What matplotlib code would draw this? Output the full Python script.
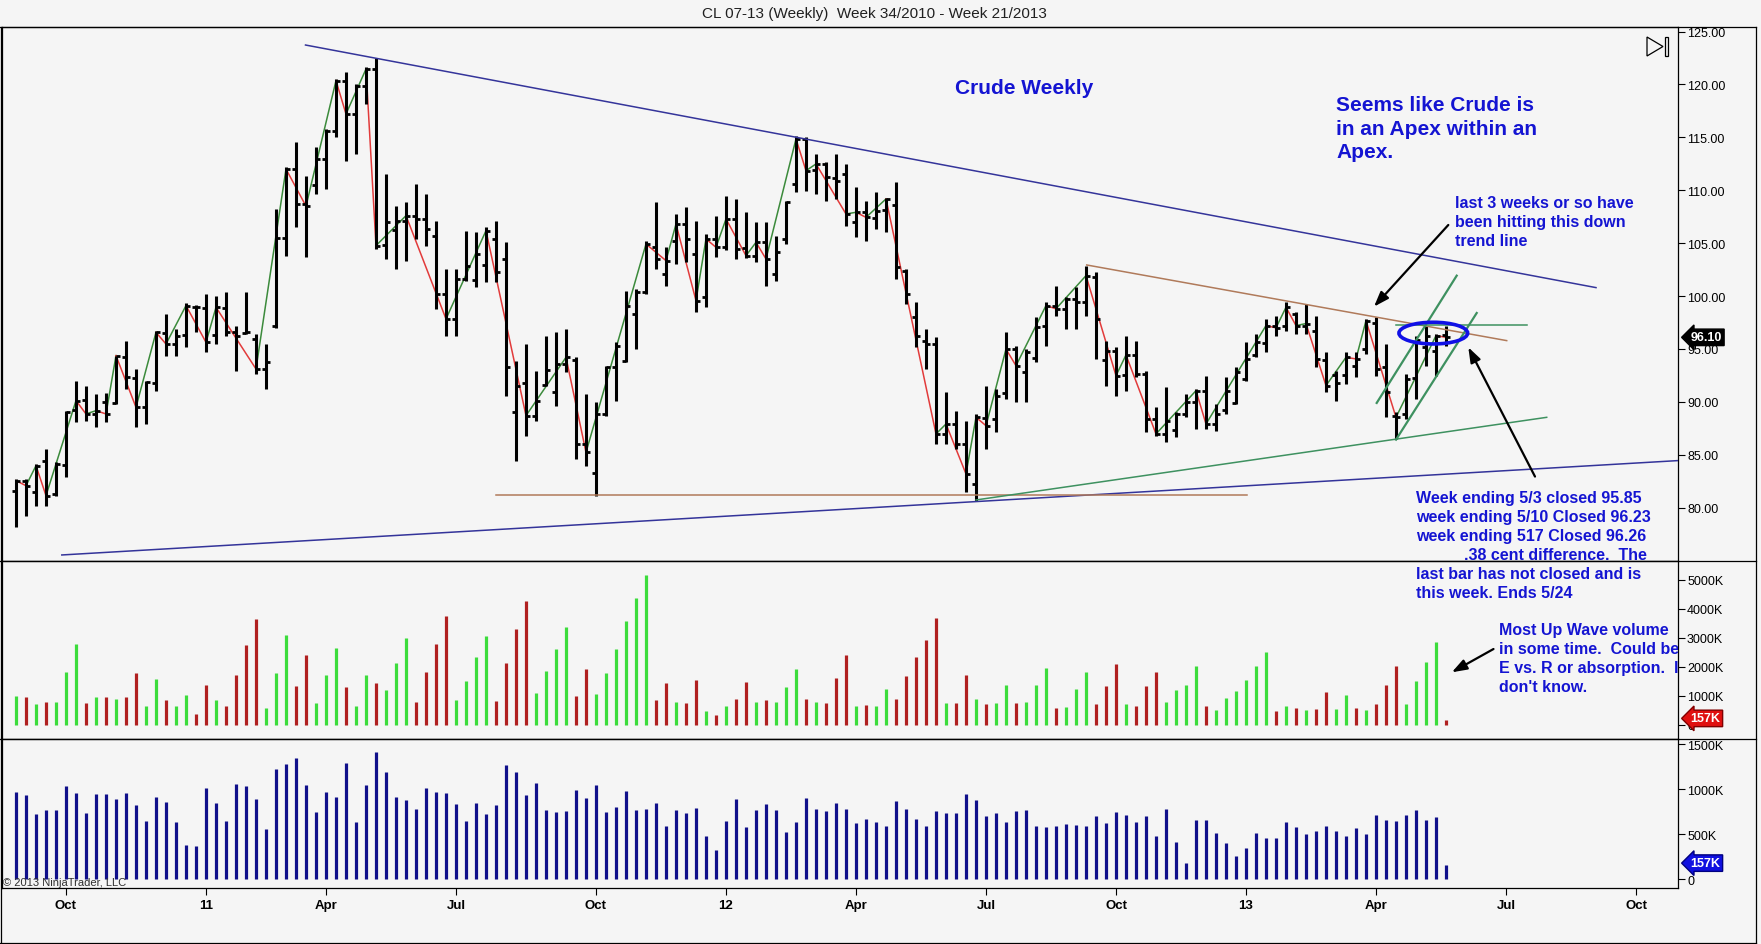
import numpy as np
import pandas as pd
import matplotlib
matplotlib.use("Agg")
import matplotlib.pyplot as plt
import matplotlib.dates as mdates
from matplotlib.patches import Ellipse, Polygon
from matplotlib.lines import Line2D

plt.rcParams['font.family'] = ['Liberation Sans', 'DejaVu Sans']

# ---------------------------------------------------------------- data
first_week = "2010-08-27"   # week ending Friday, week 34/2010
n_weeks = 144

opens = [81.6, 82.5, 81.5, 84.4, 81.3, 84.0, 89.2, 90.2, 88.9, 90.0,
         89.9, 94.2, 92.3, 89.5, 91.8, 96.5, 95.5, 96.3, 99.0, 98.9,
         96.3, 98.9, 96.6, 96.5, 95.9, 93.1, 97.2, 105.5, 112.0, 108.7,
         110.5, 113.0, 115.6, 120.3, 117.2, 119.9, 121.5, 104.8, 106.2, 107.1,
         107.6, 107.3, 105.7, 100.2, 97.8, 101.6, 101.5, 102.9, 105.4, 103.5,
         89.0, 91.8, 88.7, 91.6, 90.9, 93.6, 94.0, 86.0, 83.3, 88.9,
         93.3, 93.9, 98.3, 100.4, 104.6, 102.1, 105.2, 106.8, 104.0, 99.9,
         105.4, 104.6, 107.3, 104.5, 103.8, 105.1, 102.1, 105.4, 110.6, 114.8,
         111.9, 112.5, 111.2, 111.5, 107.0, 107.9, 107.4, 108.1, 108.6, 102.4,
         98.0, 95.8, 95.5, 87.0, 87.9, 86.0, 82.2, 88.5, 88.4, 90.8,
         95.0, 92.8, 94.1, 97.2, 99.1, 98.8, 99.7, 99.4, 101.8, 94.0,
         94.8, 92.5, 94.4, 92.6, 88.4, 87.0, 87.3, 88.9, 90.0, 91.0,
         87.9, 89.2, 89.9, 92.2, 94.4, 95.6, 97.2, 97.2, 98.3, 97.2,
         96.7, 94.0, 92.5, 92.5, 93.4, 95.0, 97.5, 93.3, 88.7, 88.9,
         92.3, 95.2, 94.8, 96.3]

highs = [82.71, 82.70, 84.13, 85.55, 84.29, 89.17, 92.01, 91.53, 90.75, 90.84,
         94.37, 95.79, 93.11, 92.01, 96.73, 98.31, 96.89, 99.30, 99.20, 100.20,
         100.04, 100.36, 97.20, 100.36, 96.42, 95.47, 108.23, 112.17, 114.53, 111.38,
         114.06, 115.79, 120.52, 121.15, 120.05, 121.62, 122.47, 111.54, 108.55, 108.86,
         110.60, 109.65, 107.13, 102.56, 102.56, 106.18, 106.03, 106.50, 107.13, 105.08,
         93.90, 95.47, 92.95, 96.26, 96.57, 96.89, 94.21, 90.75, 89.96, 93.42,
         95.63, 100.51, 100.67, 105.24, 108.86, 104.61, 107.76, 108.39, 107.13, 105.87,
         107.60, 109.49, 109.17, 107.92, 106.97, 106.97, 105.71, 109.02, 115.16, 115.00,
         113.43, 112.64, 113.43, 112.49, 110.28, 109.02, 109.81, 109.24, 110.75, 102.56,
         99.41, 96.89, 96.10, 90.90, 89.17, 88.23, 88.86, 91.53, 91.22, 96.57,
         95.30, 95.00, 97.99, 99.41, 100.98, 99.88, 100.83, 102.88, 102.25, 95.79,
         95.16, 96.26, 95.79, 92.95, 89.49, 91.38, 89.01, 90.75, 91.22, 92.48,
         89.80, 92.32, 93.27, 95.63, 96.42, 97.84, 98.15, 99.41, 98.47, 99.26,
         98.15, 94.69, 92.95, 94.69, 94.69, 97.84, 98.00, 95.47, 89.02, 92.64,
         96.26, 97.21, 96.42, 97.21]

lows = [78.14, 79.25, 80.19, 80.19, 81.14, 82.87, 88.07, 88.23, 87.60, 88.07,
        89.80, 91.22, 87.60, 87.91, 91.06, 94.37, 94.37, 95.16, 96.57, 94.68,
        95.50, 96.26, 92.95, 96.42, 92.64, 91.22, 97.00, 103.82, 106.50, 103.66,
        109.65, 110.12, 115.00, 112.80, 113.43, 118.16, 104.45, 103.51, 102.56, 103.35,
        105.40, 104.77, 98.78, 96.26, 96.26, 101.46, 100.83, 101.30, 101.30, 90.59,
        84.45, 86.81, 88.23, 91.53, 89.64, 92.80, 84.60, 83.97, 81.14, 88.70,
        90.12, 93.74, 95.00, 100.20, 102.56, 100.98, 103.03, 103.19, 98.47, 98.94,
        103.66, 104.40, 103.51, 103.60, 103.19, 100.98, 101.46, 104.92, 109.81, 109.97,
        109.65, 109.02, 109.18, 106.66, 105.55, 105.24, 106.34, 106.03, 101.62, 99.25,
        95.16, 93.11, 86.02, 86.02, 85.55, 81.45, 80.66, 85.55, 87.12, 90.27,
        89.96, 89.96, 93.74, 95.32, 98.15, 96.89, 96.89, 98.15, 94.05, 91.53,
        90.59, 91.06, 92.32, 87.12, 86.81, 86.18, 86.65, 88.54, 87.44, 87.44,
        87.28, 88.86, 89.80, 92.01, 94.21, 94.69, 96.26, 96.73, 96.42, 96.42,
        93.27, 90.91, 90.12, 91.69, 92.32, 94.53, 92.48, 88.54, 86.49, 88.40,
        90.27, 93.43, 92.48, 95.32]

closes = [82.55, 82.08, 83.97, 81.14, 84.13, 89.08, 90.12, 88.86, 89.17, 88.86,
          94.37, 92.32, 89.49, 91.85, 96.57, 95.47, 96.26, 99.10, 98.94, 95.63,
          98.94, 96.57, 96.26, 96.57, 93.11, 93.74, 105.46, 112.01, 108.70, 108.50,
          112.96, 115.64, 120.36, 117.21, 119.89, 121.46, 104.77, 106.97, 107.13, 107.60,
          107.29, 106.34, 100.20, 97.84, 101.62, 102.88, 103.98, 106.18, 102.25, 93.27,
          91.53, 88.70, 90.12, 93.00, 93.60, 94.21, 86.02, 85.23, 88.86, 93.27,
          95.32, 99.10, 100.36, 104.92, 103.51, 103.35, 106.81, 105.40, 99.57, 105.40,
          104.61, 107.29, 104.45, 103.82, 105.08, 103.51, 104.14, 108.86, 114.85, 111.85,
          112.49, 111.23, 110.90, 107.76, 107.92, 107.44, 108.07, 109.18, 102.72, 100.20,
          96.20, 95.50, 86.97, 87.91, 86.02, 83.19, 88.54, 87.75, 90.59, 94.99,
          93.42, 94.68, 97.05, 99.10, 98.80, 99.73, 99.41, 101.93, 97.84, 94.84,
          92.48, 94.43, 92.64, 88.38, 86.97, 88.23, 88.86, 89.96, 91.06, 87.91,
          88.86, 91.06, 92.80, 94.06, 95.63, 97.21, 97.00, 98.94, 97.21, 97.40,
          94.06, 91.54, 91.80, 94.21, 94.06, 97.68, 93.11, 90.91, 88.54, 92.17,
          95.85, 96.23, 96.26, 96.10]

# weekly volume, thousands of contracts
volume_k = [965, 935, 724, 772, 772, 1039, 958, 735, 947, 947,
            891, 958, 824, 646, 913, 857, 635, 379, 371, 1013,
            846, 646, 1058, 1036, 891, 557, 1225, 1281, 1347, 1047,
            746, 969, 913, 1292, 635, 1047, 1414, 1192, 913, 880,
            780, 1013, 969, 958, 835, 646, 846, 724, 824, 1269,
            1192, 935, 1069, 768, 746, 757, 995, 902, 1047, 746,
            802, 980, 768, 780, 846, 590, 768, 735, 791, 479,
            323, 646, 891, 579, 768, 835, 768, 523, 635, 902,
            780, 757, 846, 780, 624, 668, 635, 590, 869, 780,
            668, 590, 757, 735, 735, 947, 880, 702, 735, 635,
            757, 768, 590, 579, 590, 612, 601, 590, 702, 624,
            746, 713, 635, 702, 479, 780, 412, 178, 657, 657,
            512, 401, 256, 345, 512, 457, 457, 638, 579, 501,
            535, 590, 535, 479, 568, 501, 713, 657, 646, 713,
            768, 657, 690, 157]

# cumulative wave volume, thousands
wave_volume_k = [1000, 966, 713, 794, 794, 1829, 2783, 748, 966, 966,
                 886, 966, 1783, 656, 1576, 851, 656, 1035, 368, 1380,
                 851, 656, 1714, 2749, 3646, 575, 1783, 3094, 1346, 2404,
                 748, 1714, 2645, 1311, 656, 1714, 1438, 1196, 2128, 2990,
                 794, 1806, 2783, 3738, 851, 1495, 2346, 3048, 817, 2128,
                 3301, 4267, 1093, 1852, 2611, 3358, 989, 1921, 1070, 1783,
                 2611, 3577, 4370, 5164, 851, 1438, 782, 748, 1541, 472,
                 345, 644, 886, 1472, 782, 851, 782, 1300, 1921, 886,
                 782, 748, 1610, 2404, 644, 679, 644, 1231, 886, 1679,
                 2335, 2921, 3680, 748, 748, 1714, 886, 713, 748, 1369,
                 748, 782, 1369, 1955, 575, 610, 1231, 1817, 713, 1334,
                 2093, 713, 644, 1334, 1817, 782, 1196, 1369, 2024, 644,
                 506, 920, 1162, 1540, 2034, 2516, 483, 643, 586, 517,
                 551, 1138, 551, 1023, 586, 517, 712, 1379, 2022, 712,
                 1517, 2172, 2861, 157]

# wave direction of each bar: U = up wave, D = down wave
wave_dir = ("UDUDUUUDUD" "UDDUUDUUDD" "UDDDDUUUDD" "UUUDUUDUUU"
            "DDDDUUUUDD" "DDUUUUDDUU" "UUUUDDUDDU" "DUDDUDUUUD"
            "UDDDUDUUDD" "DDDUDDUDUU" "DUUUDUUUDD" "DUDDDUUUUD"
            "UUUUUUDUDU" "DDUUDUDDDU" "UUUD")

# hand drawn objects: (bar index, price) end points
upper_trend = [(28.95, 123.73), (158.0, 100.8)]
lower_trend = [(4.58, 75.53), (166.2, 84.45)]
support_line = [(48.0, 81.2), (123.07, 81.2)]
apex_top = [(107.07, 102.94), (149.07, 95.79)]
apex_bottom = [(96.0, 80.73), (153.07, 88.54)]
channel_a = [(136.07, 89.9), (144.07, 101.93)]
channel_b = [(138.0, 86.43), (146.07, 98.4)]
channel_top = [(138.0, 97.27), (151.07, 97.27)]
circle_center = (141.73, 96.5)
circle_size = (6.87, 2.05)

# ---------------------------------------------------------------- setup
W, H = 1761, 945
BG = '#F5F5F5'
TXT_BLUE = '#1414D2'

fig = plt.figure(figsize=(W / 100, H / 100), dpi=100, facecolor=BG)


def fpos(x, y):
    return x / W, 1 - y / H


left, right = 2, 1678
ax = fig.add_axes([left / W, 1 - 562 / H, (right - left) / W, (562 - 27.5) / H])
ax_w = fig.add_axes([left / W, 1 - 740 / H, (right - left) / W, (740 - 562) / H], sharex=ax)
ax_v = fig.add_axes([left / W, 1 - 889 / H, (right - left) / W, (889 - 740) / H], sharex=ax)

dates = pd.date_range(first_week, periods=n_weeks, freq="W-FRI")
x = mdates.date2num(dates.to_pydatetime())
x0 = x[0]


def wx(i):
    return x0 + 7.0 * i


for a in (ax, ax_w, ax_v):
    a.set_facecolor(BG)
    for s in a.spines.values():
        s.set_linewidth(0.9)
        s.set_color('black')
    a.yaxis.tick_right()
    a.tick_params(axis='y', direction='out', length=5, width=0.8, pad=1.5,
                  labelsize=9, colors='black')
    a.tick_params(axis='x', bottom=False, labelbottom=False)

ax.set_xlim(wx(-1.4), wx(166.2))

# ---------------------------------------------------------------- price bars
half = 2.8
ax.vlines(x, lows, highs, color='black', lw=2.2, zorder=3)
ax.hlines(opens, x - half, x, color='black', lw=2.0, zorder=3)
ax.hlines(closes, x, x + half, color='black', lw=2.0, zorder=3)

# wave line between wave end closes
ends = [i for i in range(n_weeks) if i == n_weeks - 1 or wave_dir[i] != wave_dir[i + 1]]
for a_i, b_i in zip(ends[:-1], ends[1:]):
    col = '#3B8A3B' if wave_dir[b_i] == 'U' else '#E23B3B'
    ax.plot([x[a_i], x[b_i]], [closes[a_i], closes[b_i]], color=col, lw=1.1, zorder=2)


def seg(pts, color, lw=1.1):
    (i0, p0), (i1, p1) = pts
    ax.plot([wx(i0), wx(i1)], [p0, p1], color=color, lw=lw, zorder=4)


seg(upper_trend, '#34349A')
seg(lower_trend, '#34349A')
seg(support_line, '#B07A5A')
seg(apex_top, '#B07A5A')
seg(apex_bottom, '#3E9160')
seg(channel_a, '#3E9160', 1.6)
seg(channel_b, '#3E9160', 1.6)
seg(channel_top, '#3E9160', 1.1)

ax.add_patch(Ellipse((wx(circle_center[0]), circle_center[1]), 7 * circle_size[0],
                     circle_size[1], fill=False, ec='#1010E6', lw=2.6, zorder=5))

ax.set_ylim(74.96, 125.48)
ticks = np.arange(80, 126, 5)
ax.set_yticks(ticks, [f"{t:.2f}" for t in ticks])

arrow = dict(arrowstyle='-|>,head_length=0.9,head_width=0.32', color='black',
             lw=1.6, shrinkA=0, shrinkB=0)
ax.annotate('', xy=(wx(135.8), 99.0), xytext=(wx(143.23), 106.72), arrowprops=arrow, zorder=6)
ax.annotate('', xy=(wx(145.23), 95.16), xytext=(wx(151.9), 82.94), arrowprops=arrow, zorder=6)

ax.annotate(f"{closes[-1]:.2f}", xy=(1.0, closes[-1]), xycoords=('axes fraction', 'data'),
            xytext=(9, 0), textcoords='offset points', ha='left', va='center',
            fontsize=9, fontweight='bold', color='white', annotation_clip=False,
            bbox=dict(boxstyle='larrow,pad=0.18', fc='black', ec='black'))

# ---------------------------------------------------------------- wave volume
wcols = ['#3CDC3C' if d == 'U' else '#B02020' for d in wave_dir]
ax_w.vlines(x, 0, wave_volume_k, colors=wcols, lw=2.3)
ax_w.set_ylim(-493, 5645)
wt = [0, 1000, 2000, 3000, 4000, 5000]
ax_w.set_yticks(wt, ['0'] + [f"{t}K" for t in wt[1:]])
ax_w.annotate(f"{wave_volume_k[-1]}K", xy=(1.0, wave_volume_k[-1] + 60),
              xycoords=('axes fraction', 'data'), xytext=(9, 0), textcoords='offset points',
              ha='left', va='center', fontsize=9, fontweight='bold', color='white',
              annotation_clip=False,
              bbox=dict(boxstyle='larrow,pad=0.18', fc='#E01010', ec='#800000'))
ax_w.annotate('', xy=(wx(143.58), 1807), xytext=(wx(147.75), 2610), arrowprops=arrow)

# ---------------------------------------------------------------- volume
ax_v.vlines(x, 0, volume_k, color='#10108A', lw=2.3)
ax_v.set_ylim(-100, 1559)
vt = [0, 500, 1000, 1500]
ax_v.set_yticks(vt, ['0'] + [f"{t}K" for t in vt[1:]])
ax_v.annotate(f"{volume_k[-1]}K", xy=(1.0, volume_k[-1] + 20),
              xycoords=('axes fraction', 'data'), xytext=(9, 0), textcoords='offset points',
              ha='left', va='center', fontsize=9, fontweight='bold', color='white',
              annotation_clip=False,
              bbox=dict(boxstyle='larrow,pad=0.18', fc='#1010E0', ec='#000080'))

fridays = pd.date_range(first_week, periods=175, freq="W-FRI")
tick_days = [d for d in fridays if d.month in (1, 4, 7, 10) and d.day <= 7]
tick_lab = [d.strftime('%y') if d.month == 1 else d.strftime('%b') for d in tick_days]
ax_v.set_xticks(mdates.date2num([d.to_pydatetime() for d in tick_days]), tick_lab)
ax_v.tick_params(axis='x', bottom=True, labelbottom=True, direction='out', length=5,
                 width=0.8, pad=3, labelsize=9.5)
for t in ax_v.get_xticklabels():
    t.set_fontweight('bold')
ax_v.set_xlim(wx(-1.4), wx(166.2))

# ---------------------------------------------------------------- texts
fig.text(*fpos(874, 14), "CL 07-13 (Weekly)  Week 34/2010 - Week 21/2013",
         ha='center', va='center', fontsize=11, color='#202020')

fig.text(*fpos(1024, 94.3), "Crude Weekly", ha='center', va='baseline',
         fontsize=15, fontweight='bold', color=TXT_BLUE)

for k, line in enumerate(["Seems like Crude is", "in an Apex within an", "Apex."]):
    fig.text(*fpos(1336, 111 + 23.7 * k), line, ha='left', va='baseline',
             fontsize=15, fontweight='bold', color=TXT_BLUE)

for k, line in enumerate(["last 3 weeks or so have", "been hitting this down", "trend line"]):
    fig.text(*fpos(1455.3, 208.3 + 18.9 * k), line, ha='left', va='baseline',
             fontsize=11.5, fontweight='bold', color=TXT_BLUE)

week_lines = ["Week ending 5/3 closed 95.85", "week ending 5/10 Closed 96.23",
              "week ending 517 Closed 96.26", ".38 cent difference.  The",
              "last bar has not closed and is", "this week. Ends 5/24"]
for k, line in enumerate(week_lines):
    xx = 1463.6 if k == 3 else 1416.3
    fig.text(*fpos(xx, 503.3 + 19.0 * k), line, ha='left', va='baseline',
             fontsize=11.5, fontweight='bold', color=TXT_BLUE, zorder=10)

for k, line in enumerate(["Most Up Wave volume", "in some time.  Could be",
                          "E vs. R or absorption.  I", "don't know."]):
    ax_w.text(*fpos(1499.2, 635.3 + 18.9 * k), line, transform=fig.transFigure,
              ha='left', va='baseline', fontsize=11.5, fontweight='bold',
              color=TXT_BLUE, clip_on=True)

ax_v.text(*fpos(3, 886), "\u00a9 2013 NinjaTrader, LLC", transform=fig.transFigure,
          ha='left', va='baseline', fontsize=8, color='#303030')

# "go to last bar" icon
tri = Polygon([fpos(1647, 38), fpos(1647, 57), fpos(1663, 47.5)], closed=True,
              fill=False, ec='black', lw=0.9, transform=fig.transFigure)
bar = Polygon([fpos(1664.5, 38), fpos(1667.5, 38), fpos(1667.5, 57), fpos(1664.5, 57)],
              closed=True, fill=False, ec='black', lw=0.9, transform=fig.transFigure)
fig.add_artist(tri)
fig.add_artist(bar)

# frame lines
def fline(xa, ya, xb, yb):
    (u0, v0), (u1, v1) = fpos(xa, ya), fpos(xb, yb)
    fig.add_artist(Line2D([u0, u1], [v0, v1], transform=fig.transFigure,
                          color='black', lw=0.9))


fline(0, 27.5, 1756, 27.5)
fline(0, 562, 1756, 562)
fline(0, 740, 1756, 740)
fline(0.5, 27.5, 0.5, 943.5)
fline(0, 943.5, 1756, 943.5)
fline(1755.5, 27.5, 1755.5, 943.5)

fig.savefig("out.png", dpi=100, facecolor=BG)
